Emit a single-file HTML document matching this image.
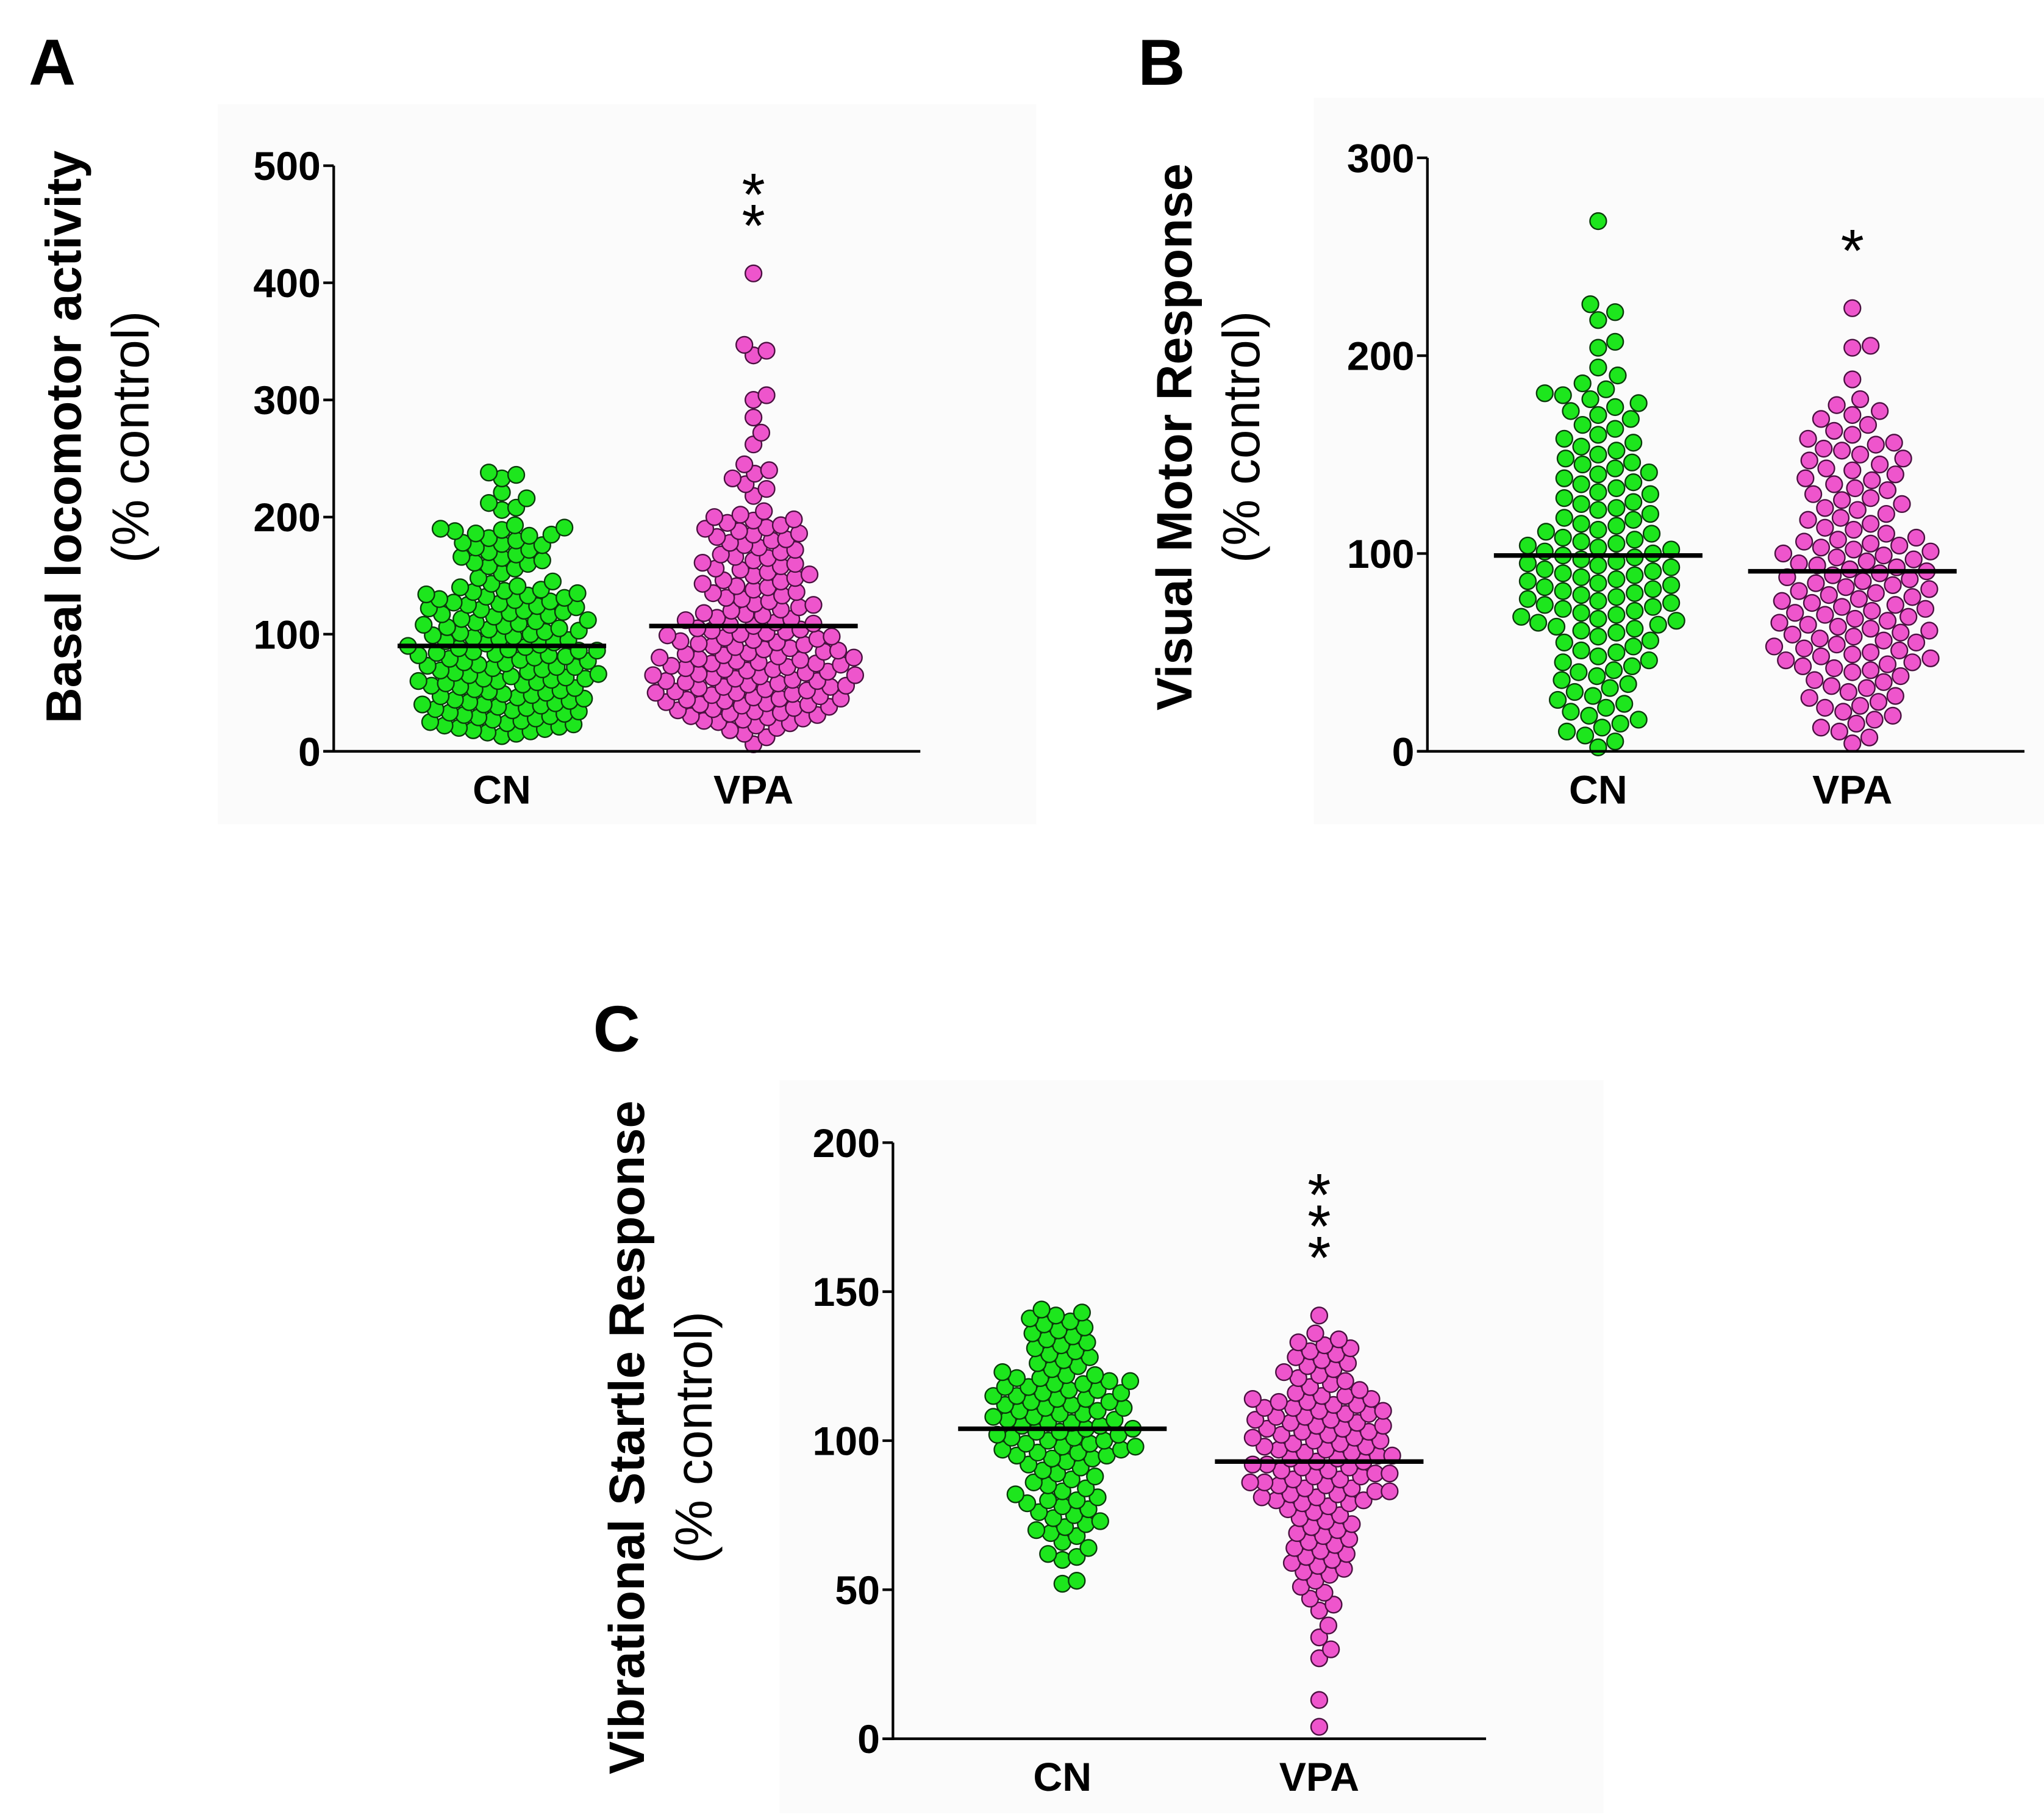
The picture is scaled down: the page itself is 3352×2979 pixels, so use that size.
<!DOCTYPE html>
<html><head><meta charset="utf-8"><title>Behavior chart</title>
<style>html,body{margin:0;padding:0;background:#fff}svg{display:block}text{font-family:"Liberation Sans",sans-serif}</style></head>
<body>
<svg id="chart" xmlns="http://www.w3.org/2000/svg" width="3352" height="2979" viewBox="0 0 1568 1393" preserveAspectRatio="none">
<rect x="167" y="80" width="628" height="552" fill="#fbfbfb"/>
<rect x="1008" y="75" width="560" height="557" fill="#fbfbfb"/>
<rect x="598" y="828" width="632" height="562" fill="#fbfbfb"/>
<text x="22" y="65" font-size="50" font-weight="bold">A</text>
<text x="873" y="65" font-size="50" font-weight="bold">B</text>
<text x="455" y="806" font-size="50" font-weight="bold">C</text>
</svg>
<script>
const categories = ["CN", "VPA"];
const aCN = [238,236,233,221,216,212,208,206,193,191,190,189,188,186,185,184,182,180,178,177,176,174,172,170,168,166,165,163,161,160,158,156,152,148,145,143,141,140,138,137,136,135,134,133,132,131,130,129,128,127,126,125,124,123,122,121,120,119,118,117,116,115,113,112,111,110,109,108,107,106,105,104,103,102,101,100,99,98,97,96,95,94,93,92,91,90,89,88,87,86,86,85,84,83,82,82,81,80,79,78,77,76,75,74,73,72,72,71,70,69,68,67,66,65,64,63,62,62,61,60,60,59,58,57,56,55,54,53,52,51,50,49,48,47,46,45,44,43,42,41,40,40,39,38,37,36,35,34,33,32,31,30,29,28,27,26,25,24,23,22,21,20,19,18,17,16,15,13];
const aVPA = [408,347,342,338,304,300,285,272,262,245,240,237,233,228,224,218,205,202,200,198,197,195,193,191,190,188,186,185,183,181,180,178,176,174,172,170,168,166,165,163,161,160,158,156,155,153,151,150,148,146,145,143,141,140,138,136,135,133,131,130,128,126,125,123,121,120,118,117,116,114,113,112,110,109,108,107,105,104,103,102,101,100,99,98,97,96,95,94,93,92,91,90,89,88,87,86,85,84,83,82,81,80,80,79,78,77,76,75,75,74,73,72,71,70,70,69,68,67,66,65,65,64,63,62,61,60,60,59,58,57,56,55,55,54,53,52,51,50,50,49,48,47,46,45,45,44,43,42,41,40,40,39,38,37,36,35,34,33,32,31,30,29,28,27,26,25,24,22,20,18,15,12,6];
const bCN = [268,226,222,218,207,204,194,190,186,183,181,180,178,176,174,172,170,168,165,163,160,158,156,154,152,150,148,146,145,143,141,140,138,136,135,133,131,130,128,126,125,123,122,120,118,117,115,114,112,111,110,108,107,106,105,104,103,102,101,100,99,98,97,96,95,94,93,92,91,90,89,88,87,86,85,84,83,82,81,80,79,78,77,76,75,74,73,72,71,70,69,68,67,66,65,64,63,62,61,60,58,56,55,53,51,50,48,46,45,43,41,40,38,36,34,32,30,28,26,24,22,20,18,16,14,12,10,8,5,2];
const bVPA = [224,205,204,188,178,175,172,170,168,165,162,160,158,156,155,153,152,150,148,147,145,143,142,140,138,137,135,133,132,130,128,127,125,123,122,120,118,117,115,113,112,110,108,107,106,105,104,103,102,101,100,99,98,97,96,95,94,93,92,91,90,89,88,87,86,85,84,83,82,81,80,79,78,77,76,75,74,73,72,71,70,69,68,67,66,65,64,63,62,61,60,59,58,57,56,55,54,53,52,51,50,49,48,47,46,45,44,43,42,41,40,38,36,35,33,32,30,28,27,25,23,22,20,18,16,14,12,10,7,4];
const cCN = [144,143,142,141,140,139,138,137,136,135,134,133,132,131,130,129,128,127,126,125,124,123,122,122,121,121,120,120,119,119,118,118,117,117,116,116,115,115,114,114,113,113,112,112,111,111,110,110,109,109,108,108,107,107,106,106,105,105,104,104,103,103,102,102,101,101,100,100,99,99,98,98,97,97,96,96,95,95,94,94,93,92,91,90,89,88,87,86,85,84,83,82,81,80,80,79,78,77,76,75,74,73,72,71,70,69,68,66,64,62,61,60,53,52];
const cVPA = [142,136,134,133,132,131,130,129,128,127,126,125,124,123,122,121,120,119,118,117,116,115,115,114,114,113,113,112,112,111,111,110,110,109,109,108,108,107,107,106,106,105,105,104,104,103,103,102,102,101,101,100,100,99,99,98,98,97,97,96,96,95,95,94,94,93,93,92,92,91,91,90,90,89,89,88,88,87,87,86,86,85,85,84,84,83,83,82,82,81,81,80,80,79,79,78,77,76,75,74,73,72,71,70,69,68,67,66,65,64,63,62,61,60,59,58,57,56,55,53,51,49,47,45,43,38,34,30,27,13,4];
const meansA = [90, 107];
const meansB = [99, 91];
const meansC = [104, 93];
const ticksA = [0,100,200,300,400,500];
const ticksB = [0,100,200,300];
const ticksC = [0,50,100,150,200];
const starsA = "**", starsB = "*", starsC = "***";

const svg = document.getElementById('chart');
const NS = 'http://www.w3.org/2000/svg';
function mk(tag, attrs, parent) {
  const e = document.createElementNS(NS, tag);
  for (const k in attrs) e.setAttribute(k, attrs[k]);
  (parent || svg).appendChild(e);
  return e;
}
function panel(p) {
  const g = mk('g', {});
  
  
  const y = v => p.y0 + (p.y1 - p.y0) * (v - p.min) / (p.max - p.min);
  const xc = i => p.xs[i];
  const cols = [['#1de61d', '#0a3a0a'], ['#ee55cc', '#4a1040']];
  [p.cn, p.vpa].forEach((arr, gi) => {
    const placed = [];
    const sorted = arr.slice().sort((a, b) => a - b);
    const r = 6.3, dmin = p.dmin;
    sorted.forEach(v => {
      const py = y(v);
      let best = 0;
      for (let k = 0; k < 400; k++) {
        const dx = (k % 2 ? 1 : -1) * Math.ceil(k / 2);
        const px = xc(gi) + dx;
        let ok = true;
        for (const q of placed) {
          const ddx = q[0] - px, ddy = q[1] - py;
          if (ddx * ddx + ddy * ddy < dmin * dmin) { ok = false; break; }
        }
        if (ok) { best = dx; break; }
      }
      placed.push([xc(gi) + best, py]);
      const c = mk('circle', {cx: xc(gi) + best, cy: py, r: r, fill: cols[gi][0], stroke: cols[gi][1], 'stroke-width': 1.1}, g);
      
      
    });
  });
  p.means.forEach((m, i) => {
    const l = mk('line', {x1: xc(i) - 80, x2: xc(i) + 80, y1: y(m), y2: y(m), stroke: '#000', 'stroke-width': 3.5}, g);
    
    
  });
  const ya = mk('line', {x1: p.ax, x2: p.ax, y1: p.y0 + 1, y2: p.y1, stroke: '#000', 'stroke-width': 2}, g);
  
  
  const xa = mk('line', {x1: p.ax - 8, x2: p.xend, y1: p.y0, y2: p.y0, stroke: '#000', 'stroke-width': 2}, g);
  
  
  p.ticks.forEach(t => {
    mk('line', {x1: p.ax - 8, x2: p.ax, y1: y(t), y2: y(t), stroke: '#000', 'stroke-width': 2}, g);
    const tx = mk('text', {x: p.ax - 10, y: y(t) + 11, 'font-size': 31, 'font-weight': 'bold', 'text-anchor': 'end'}, g);
    tx.textContent = t;
    
    
  });
  categories.forEach((c, i) => {
    const tx = mk('text', {x: xc(i), y: p.y0 + 40, 'font-size': 31, 'font-weight': 'bold', 'text-anchor': 'middle'}, g);
    tx.textContent = c;
    
    
  });
  const t1 = mk('text', {x: 0, y: 0, 'font-size': 38, 'font-weight': 'bold', 'text-anchor': 'middle', transform: `translate(${p.tx},${p.ty}) rotate(-90)`}, g);
  t1.textContent = p.title;
  
  
  const t2 = mk('text', {x: 0, y: 0, 'font-size': 40, 'text-anchor': 'middle', transform: `translate(${p.tx + 52},${p.ty}) rotate(-90)`}, g);
  t2.textContent = '(% control)';
  
  
  for (let i = 0; i < p.stars.length; i++) {
    const s = mk('text', {x: xc(1), y: p.sy + i * 24, 'font-size': 46, 'text-anchor': 'middle'}, g);
    s.textContent = '*';
    
    
  }
}
panel({id: 'panel-a', cn: aCN, vpa: aVPA, means: meansA, ticks: ticksA, min: 0, max: 500, y0: 576, y1: 127, ax: 256, xend: 706, xs: [385, 578], title: 'Basal locomotor activity', tx: 62, ty: 335, stars: starsA, sy: 165, dmin: 10.5});
panel({id: 'panel-b', cn: bCN, vpa: bVPA, means: meansB, ticks: ticksB, min: 0, max: 300, y0: 576, y1: 121, ax: 1095, xend: 1553, xs: [1226, 1421], title: 'Visual Motor Response', tx: 914, ty: 335, stars: starsB, sy: 208, dmin: 13.5});
panel({id: 'panel-c', cn: cCN, vpa: cVPA, means: meansC, ticks: ticksC, min: 0, max: 200, y0: 1333, y1: 876, ax: 685, xend: 1140, xs: [815, 1012], title: 'Vibrational Startle Response', tx: 494, ty: 1102, stars: starsC, sy: 932, dmin: 11});
</script>
</body></html>
